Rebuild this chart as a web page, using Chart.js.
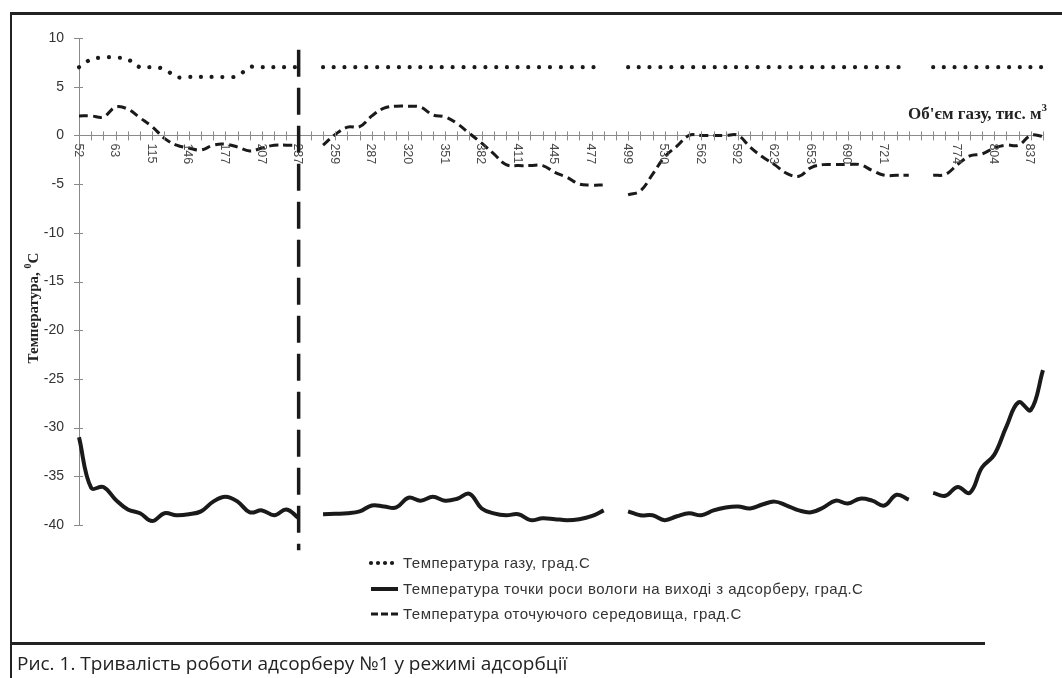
<!DOCTYPE html>
<html>
<head>
<meta charset="utf-8">
<script src="https://cdn.jsdelivr.net/npm/chart.js@4.4.1/dist/chart.umd.min.js"></script>
<style>
    html, body { margin: 0; padding: 0; background: #fff; }
    #wrap { position: relative; width: 1062px; height: 678px; }
</style>
</head>
<body>
<div id="wrap"><canvas id="chartAdsorber" width="1062" height="678"></canvas></div>
<script>
// Об'єм газу, тис. м3 - підписи кожної третьої точки
const volumeTicks = ['52', '63', '115', '146', '177', '207', '237', '259', '287', '320', '351', '382', '411',
    '445', '477', '499', '530', '562', '592', '623', '653', '690', '721', '', '774', '804', '837'];
const pointCount = 80;

// Температура газу, град.С
const gasTemp = [
    7, 7.8, 8, 8, 7.8, 7, 7, 6.8, 6, 6,
    6, 6, 6, 6.1, 7, 7, 7, 7, 7, null,
    7, 7, 7, 7, 7, 7, 7, 7, 7, 7,
    7, 7, 7, 7, 7, 7, 7, 7, 7, 7,
    7, 7, 7, 7, null, 7, 7, 7, 7, 7,
    7, 7, 7, 7, 7, 7, 7, 7, 7, 7,
    7, 7, 7, 7, 7, 7, 7, 7, 7, null,
    7, 7, 7, 7, 7, 7, 7, 7, 7, 7
];

// Температура точки роси вологи на виході з адсорберу, град.С
const dewPoint = [
    -31, -36.2, -36.1, -37.4, -38.4, -38.8, -39.6, -38.8, -39.0, -38.9,
    -38.6, -37.6, -37.1, -37.6, -38.7, -38.5, -39.0, -38.4, -39.3, null,
    -38.9, -38.85, -38.8, -38.6, -38.0, -38.1, -38.2, -37.2, -37.5, -37.1,
    -37.5, -37.3, -36.8, -38.3, -38.8, -39.0, -38.9, -39.5, -39.3, -39.4,
    -39.5, -39.4, -39.1, -38.5, null, -38.6, -39.0, -39.0, -39.5, -39.1,
    -38.8, -39.0, -38.5, -38.2, -38.1, -38.3, -37.9, -37.6, -38.0, -38.5,
    -38.7, -38.2, -37.5, -37.8, -37.3, -37.5, -38.0, -36.9, -37.4, null,
    -36.7, -37.0, -36.1, -36.7, -34.1, -32.8, -29.9, -27.4, -28.2, -24.1
];

// Температура оточуючого середовища, град.С
const ambientTemp = [
    2, 2, 1.9, 2.9, 2.7, 1.8, 0.9, -0.3, -1.0, -1.3,
    -1.5, -1.0, -0.9, -1.2, -1.6, -1.3, -1.0, -1.0, -1.0, null,
    -1.0, 0.1, 0.85, 0.9, 2.0, 2.8, 3.0, 3.0, 2.9, 2.1,
    1.9, 1.2, 0.2, -0.8, -1.9, -3.0, -3.1, -3.1, -3.1, -3.8,
    -4.3, -5.0, -5.1, -5.1, null, -6.1, -5.7, -4.0, -2.2, -1.1,
    0, 0, 0, 0, 0, -1.2, -2.2, -3.0, -3.9, -4.2,
    -3.3, -3.0, -3.0, -3.0, -3.0, -3.6, -4.1, -4.1, -4.1, null,
    -4.1, -4.0, -3.0, -2.1, -1.9, -1.3, -1.0, -1.0, 0, -0.1
];

// вертикальна межа (точка 237)
const markerIndex = 18;
const markerFrom = 8.8;
const markerTo = -42.6;

const categories = [];
for (let i = 0; i < pointCount; i++) {
    categories.push(i % 3 === 0 ? volumeTicks[i / 3] : '');
}

// Рамка, підписи осей, легенда
const decorPlugin = {
    id: 'decor',
    beforeDraw(chart) {
        const ctx = chart.ctx;
        ctx.save();
        ctx.strokeStyle = '#222';
        ctx.lineWidth = 3;
        ctx.beginPath();
        ctx.moveTo(10, 13.5); ctx.lineTo(1062, 13.5);
        ctx.moveTo(10, 643.5); ctx.lineTo(985, 643.5);
        ctx.stroke();
        ctx.lineWidth = 2;
        ctx.beginPath();
        ctx.moveTo(11, 12); ctx.lineTo(11, 678);
        ctx.stroke();

        ctx.fillStyle = '#222';
        ctx.font = '19px "Open Sans"';
        ctx.textBaseline = 'alphabetic';
        ctx.fillText('Рис. 1. Тривалість роботи адсорберу №1 у режимі адсорбції', 17, 670, 558);
        ctx.restore();
    },
    afterDatasetsDraw(chart) {
        const ctx = chart.ctx;
        const xs = chart.scales.x;
        const ys = chart.scales.y;
        const y0 = ys.getPixelForValue(0);
        ctx.save();

        // засічки осей
        ctx.strokeStyle = '#8a8a8a';
        ctx.lineWidth = 1;
        ctx.beginPath();
        for (let i = 0; i < pointCount; i++) {
            const x = Math.round(xs.getPixelForValue(i)) + 0.5;
            ctx.moveTo(x, y0 - 4); ctx.lineTo(x, y0 + 5);
        }
        ys.ticks.forEach(t => {
            const y = Math.round(ys.getPixelForValue(t.value)) + 0.5;
            ctx.moveTo(ys.right - 5, y); ctx.lineTo(ys.right + 4, y);
        });
        ctx.stroke();

        // підписи осі X (повернуті)
        ctx.fillStyle = '#484848';
        ctx.font = '12.5px "Liberation Sans"';
        ctx.textAlign = 'left';
        ctx.textBaseline = 'middle';
        categories.forEach((lab, i) => {
            if (!lab) return;
            ctx.save();
            ctx.translate(xs.getPixelForValue(i) - 1, y0 + 8);
            ctx.rotate(Math.PI / 2);
            ctx.fillText(lab, 0, 0);
            ctx.restore();
        });

        // вертикальна штрихова лінія
        const mx = xs.getPixelForValue(markerIndex);
        ctx.strokeStyle = '#1a1a1a';
        ctx.lineWidth = 3.5;
        ctx.setLineDash([27, 11]);
        ctx.beginPath();
        ctx.moveTo(mx, ys.getPixelForValue(markerFrom));
        ctx.lineTo(mx, ys.getPixelForValue(markerTo));
        ctx.stroke();
        ctx.setLineDash([]);

        // назва осі X
        ctx.fillStyle = '#222';
        ctx.textBaseline = 'alphabetic';
        ctx.textAlign = 'left';
        const xTitle = 'Об\'єм газу, тис. м';
        ctx.font = 'bold 11px "Liberation Serif"';
        const supW = ctx.measureText('3').width;
        ctx.font = 'bold 17px "Liberation Serif"';
        const xTitleW = ctx.measureText(xTitle).width;
        const xEnd = 1047;
        ctx.fillText(xTitle, xEnd - supW - xTitleW, 119);
        ctx.font = 'bold 11px "Liberation Serif"';
        ctx.fillText('3', xEnd - supW, 111);

        // назва осі Y
        ctx.save();
        ctx.translate(38, 308);
        ctx.rotate(-Math.PI / 2);
        ctx.font = 'bold 15px "Liberation Serif"';
        const p1 = 'Температура, ';
        const w1 = ctx.measureText(p1).width;
        const w3 = ctx.measureText('С').width;
        ctx.font = 'bold 10px "Liberation Serif"';
        const w2 = ctx.measureText('0').width;
        const x = -(w1 + w2 + w3) / 2;
        ctx.font = 'bold 15px "Liberation Serif"';
        ctx.fillText(p1, x, 0);
        ctx.font = 'bold 10px "Liberation Serif"';
        ctx.fillText('0', x + w1, -7);
        ctx.font = 'bold 15px "Liberation Serif"';
        ctx.fillText('С', x + w1 + w2, 0);
        ctx.restore();

        // легенда
        const rows = [563, 589, 614];
        ctx.font = '15px "Liberation Sans"';
        ctx.letterSpacing = '0.5px';
        ctx.textBaseline = 'middle';
        chart.data.datasets.forEach((ds, i) => {
            const ry = rows[i];
            ctx.strokeStyle = ds.borderColor;
            ctx.lineWidth = ds.borderWidth;
            ctx.lineCap = ds.borderCapStyle || 'butt';
            ctx.setLineDash(ds.legendDash || []);
            ctx.beginPath();
            ctx.moveTo(371, ry); ctx.lineTo(398, ry);
            ctx.stroke();
            ctx.setLineDash([]);
            ctx.fillStyle = '#333';
            ctx.fillText(ds.label, 403, ry + 1);
        });
        ctx.restore();
    }
};

new Chart(document.getElementById('chartAdsorber').getContext('2d'), {
    type: 'line',
    data: {
        labels: categories,
        datasets: [
            {
                label: 'Температура газу, град.С',
                data: gasTemp,
                borderColor: '#1a1a1a',
                borderWidth: 4.2,
                borderDash: [0.01, 10.8],
                legendDash: [0.01, 7],
                borderCapStyle: 'round',
                pointRadius: 0,
                tension: 0.4,
                spanGaps: false
            },
            {
                label: 'Температура точки роси вологи на виході з адсорберу, град.С',
                data: dewPoint,
                borderColor: '#1a1a1a',
                borderWidth: 4,
                pointRadius: 0,
                tension: 0.4,
                spanGaps: false
            },
            {
                label: 'Температура оточуючого середовища, град.С',
                data: ambientTemp,
                borderColor: '#1a1a1a',
                borderWidth: 3,
                borderDash: [9, 5],
                legendDash: [7, 3],
                pointRadius: 0,
                tension: 0.4,
                spanGaps: false
            }
        ]
    },
    options: {
        responsive: false,
        animation: false,
        layout: {
            padding: { left: 20, top: 38, right: 19, bottom: 153 }
        },
        plugins: {
            legend: { display: false },
            tooltip: { enabled: false }
        },
        scales: {
            x: {
                type: 'category',
                position: { y: 0 },
                grid: { display: false, drawTicks: false },
                border: { display: true, color: '#8a8a8a', width: 1 },
                ticks: { display: false }
            },
            y: {
                min: -40,
                max: 10,
                ticks: {
                    stepSize: 5,
                    color: '#333',
                    padding: 15,
                    font: { family: 'Liberation Sans', size: 14 }
                },
                grid: { display: false, drawTicks: false },
                border: { display: true, color: '#8a8a8a', width: 1 },
                afterFit: function (scale) {
                    scale.width = 59;
                }
            }
        }
    },
    plugins: [decorPlugin]
});
</script>
</body>
</html>
